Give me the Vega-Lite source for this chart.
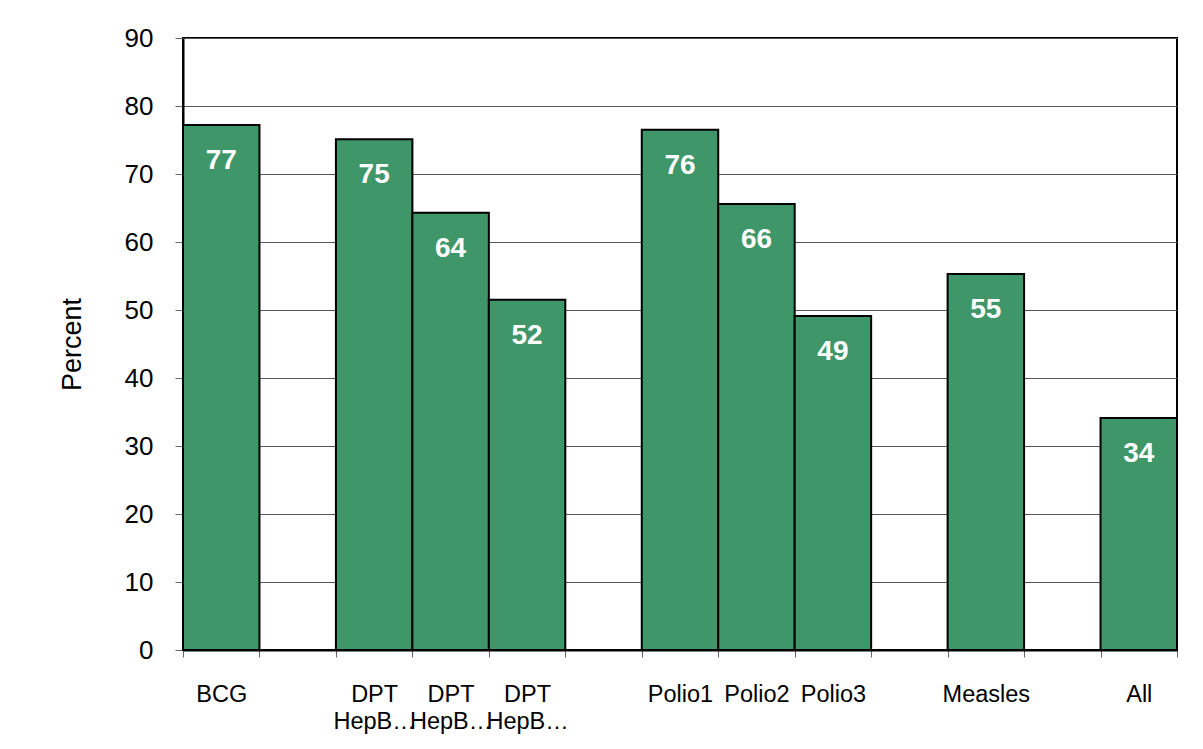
{
  "$schema": "https://vega.github.io/schema/vega-lite/v6.json",
  "width": 994,
  "height": 612,
  "autosize": "none",
  "padding": {"left": 183, "top": 38, "right": 26, "bottom": 99},
  "background": "white",
  "config": {
    "font": "Liberation Sans",
    "view": {"stroke": "black", "strokeWidth": 2}
  },
  "data": {
    "values": [
      {"cat": "BCG", "value": 77.2, "label": "77"},
      {"cat": "DPT HepB1", "value": 75.1, "label": "75"},
      {"cat": "DPT HepB2", "value": 64.3, "label": "64"},
      {"cat": "DPT HepB3", "value": 51.5, "label": "52"},
      {"cat": "Polio1", "value": 76.5, "label": "76"},
      {"cat": "Polio2", "value": 65.6, "label": "66"},
      {"cat": "Polio3", "value": 49.1, "label": "49"},
      {"cat": "Measles", "value": 55.3, "label": "55"},
      {"cat": "All", "value": 34.1, "label": "34"}
    ]
  },
  "encoding": {
    "x": {
      "field": "cat",
      "type": "nominal",
      "sort": null,
      "scale": {
        "domain": ["BCG", "gap1", "DPT HepB1", "DPT HepB2", "DPT HepB3", "gap2", "Polio1", "Polio2", "Polio3", "gap3", "Measles", "gap4", "All"],
        "paddingInner": 0,
        "paddingOuter": 0
      },
      "axis": {
        "title": null,
        "labelAngle": 0,
        "labelExpr": "test(/^DPT/, datum.label + '') ? ['DPT','HepB…'] : (test(/^gap/, datum.label + '') ? '' : datum.label)",
        "labelFontSize": 23.5,
        "labelColor": "black",
        "labelLineHeight": 27,
        "labelPadding": 25,
        "labelBaseline": "top",
        "tickBand": "extent",
        "tickSize": 7,
        "tickColor": "#666666",
        "domainColor": "black",
        "domainWidth": 2
      }
    },
    "y": {
      "field": "value",
      "type": "quantitative",
      "scale": {"domain": [0, 90]},
      "axis": {
        "title": "Percent",
        "tickCount": 9,
        "grid": true,
        "gridColor": "#555555",
        "gridWidth": 1,
        "tickSize": 8,
        "tickColor": "#666666",
        "domainColor": "black",
        "domainWidth": 2,
        "labelFontSize": 26,
        "labelColor": "black",
        "labelPadding": 22,
        "titleFontSize": 27,
        "titleFontWeight": "normal",
        "titleColor": "black",
        "titlePadding": 38
      }
    }
  },
  "layer": [
    {"mark": {"type": "bar", "fill": "#3E9669", "stroke": "black", "strokeWidth": 2}},
    {
      "mark": {"type": "text", "baseline": "top", "align": "center", "dy": 22, "fontSize": 28, "fontWeight": "bold", "fill": "white"},
      "encoding": {"text": {"field": "label"}}
    }
  ]
}
